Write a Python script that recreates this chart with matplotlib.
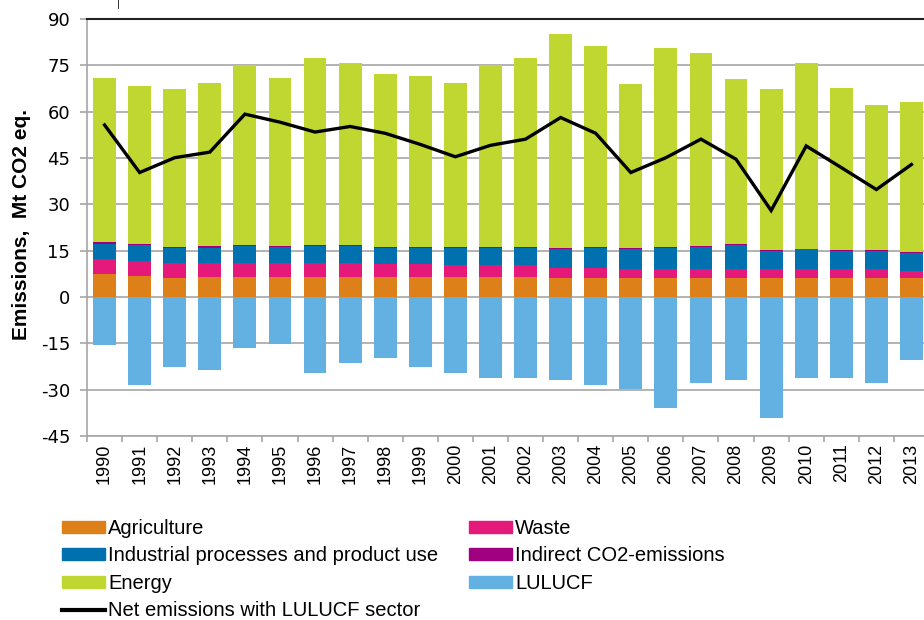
import matplotlib
matplotlib.use("Agg")
import matplotlib.pyplot as plt
import numpy as np
from matplotlib.patches import Patch
from matplotlib.lines import Line2D

plt.rcParams["axes.unicode_minus"] = False

years = [str(y) for y in range(1990, 2014)]

agriculture = [7.5, 6.7, 6.3, 6.6, 6.6, 6.6, 6.6, 6.6, 6.5, 6.5, 6.5, 6.5, 6.5, 6.3,
               6.3, 6.3, 6.3, 6.3, 6.3, 6.3, 6.3, 6.3, 6.3, 6.3]
waste = [4.9, 4.9, 4.8, 4.5, 4.5, 4.5, 4.5, 4.5, 4.3, 4.3, 3.8, 3.8, 3.8, 3.2,
         3.2, 2.7, 2.7, 2.7, 2.7, 2.7, 2.7, 2.7, 2.7, 2.1]
industrial = [4.9, 5.1, 4.8, 4.9, 5.4, 5.1, 5.4, 5.4, 5.2, 5.2, 5.7, 5.7, 5.7, 6.0,
              6.3, 6.5, 6.8, 7.2, 7.9, 5.9, 6.4, 5.9, 5.9, 6.0]
indirect = [0.4, 0.4, 0.4, 0.4, 0.4, 0.4, 0.4, 0.4, 0.3, 0.3, 0.3, 0.3, 0.3, 0.3,
            0.3, 0.3, 0.3, 0.3, 0.3, 0.3, 0.3, 0.3, 0.3, 0.3]
energy = [53.3, 51.1, 50.9, 53.0, 58.1, 54.4, 60.4, 58.8, 55.9, 55.3, 53.1, 58.7,
          61.0, 69.4, 65.1, 53.0, 64.4, 62.6, 53.4, 52.0, 60.0, 52.6, 47.1, 48.3]
lulucf = [-15.6, -28.6, -22.5, -23.6, -16.5, -15.2, -24.7, -21.5, -19.8, -22.5,
          -24.7, -26.3, -26.3, -26.9, -28.6, -29.7, -35.8, -27.9, -26.9, -39.3,
          -26.3, -26.3, -27.9, -20.3]
net = [55.7, 40.3, 45.1, 46.9, 59.2, 56.6, 53.4, 55.2, 53.0, 49.4, 45.4, 49.1,
       51.1, 58.1, 53.0, 40.3, 45.1, 51.1, 44.6, 28.0, 48.9, 41.9, 34.8, 42.9]

c_agri = "#DE8019"
c_waste = "#E5197A"
c_ind = "#0070AF"
c_indir = "#A0007F"
c_energy = "#BFD730"
c_lulucf = "#63B0E3"

W, H = 924, 620
fig = plt.figure(figsize=(W / 100, H / 100), dpi=100)
ax = fig.add_axes([87 / W, 1 - 436 / H, (929 - 87) / W, (436 - 19) / H])

x = np.arange(len(years))
bw = 0.65
b0 = np.zeros(len(years))
for vals, col in [(agriculture, c_agri), (waste, c_waste), (industrial, c_ind),
                  (indirect, c_indir), (energy, c_energy)]:
    ax.bar(x, vals, bw, bottom=b0, color=col, linewidth=0, zorder=2)
    b0 = b0 + np.array(vals)
ax.bar(x, lulucf, bw, color=c_lulucf, linewidth=0, zorder=2)
ax.plot(x, net, color="black", lw=2.4, zorder=3, solid_joinstyle="miter")

ax.set_xlim(-0.5, len(years) - 0.5)
ax.set_ylim(-45, 90)
ax.set_yticks(np.arange(-45, 91, 15))
ax.yaxis.grid(True, color="#A6A6A6", lw=1.2, zorder=0)
ax.set_axisbelow(True)

ax.set_xticks(x)
ax.set_xticklabels(years, rotation=90, fontsize=13, family="Liberation Sans")
ax.set_xticks(np.arange(-0.5, len(years), 1), minor=True)
ax.tick_params(axis="x", which="major", length=0, pad=5.5)
ax.tick_params(axis="x", which="minor", length=4, color="#A6A6A6", width=1.2)
ax.tick_params(axis="y", length=5, color="#A6A6A6", width=1.2, pad=7)
for lab in ax.get_yticklabels():
    lab.set_fontsize(13)
    lab.set_family("DejaVu Sans")

for s in ["left", "bottom"]:
    ax.spines[s].set_color("#A6A6A6")
    ax.spines[s].set_linewidth(1.2)
ax.spines["right"].set_visible(False)
ax.spines["top"].set_color("#222222")
ax.spines["top"].set_linewidth(1.5)

fig.text(22 / W, 1 - 225 / H, "Emissions,  Mt CO2 eq.", rotation=90,
         ha="center", va="center", fontsize=15, fontweight="bold",
         family="Liberation Sans")

handles = [
    Patch(color=c_agri, label="Agriculture"),
    Patch(color=c_ind, label="Industrial processes and product use"),
    Patch(color=c_energy, label="Energy"),
    Line2D([], [], color="black", lw=3, label="Net emissions with LULUCF sector"),
    Patch(color=c_waste, label="Waste"),
    Patch(color=c_indir, label="Indirect CO2-emissions"),
    Patch(color=c_lulucf, label="LULUCF"),
]
fig.legend(handles=handles, loc="upper left", bbox_to_anchor=(62 / W, 1 - 519 / H),
           ncol=2, frameon=False, borderpad=0, borderaxespad=0,
           prop={"family": "Liberation Sans", "size": 14.5},
           handlelength=2.15, handleheight=0.55, handletextpad=0.15,
           columnspacing=1.5, labelspacing=0.42)

fig.add_artist(Line2D([118 / W, 118 / W], [1, 1 - 8 / H], color="#333333", lw=0.7))

fig.savefig("out.png", dpi=100)
